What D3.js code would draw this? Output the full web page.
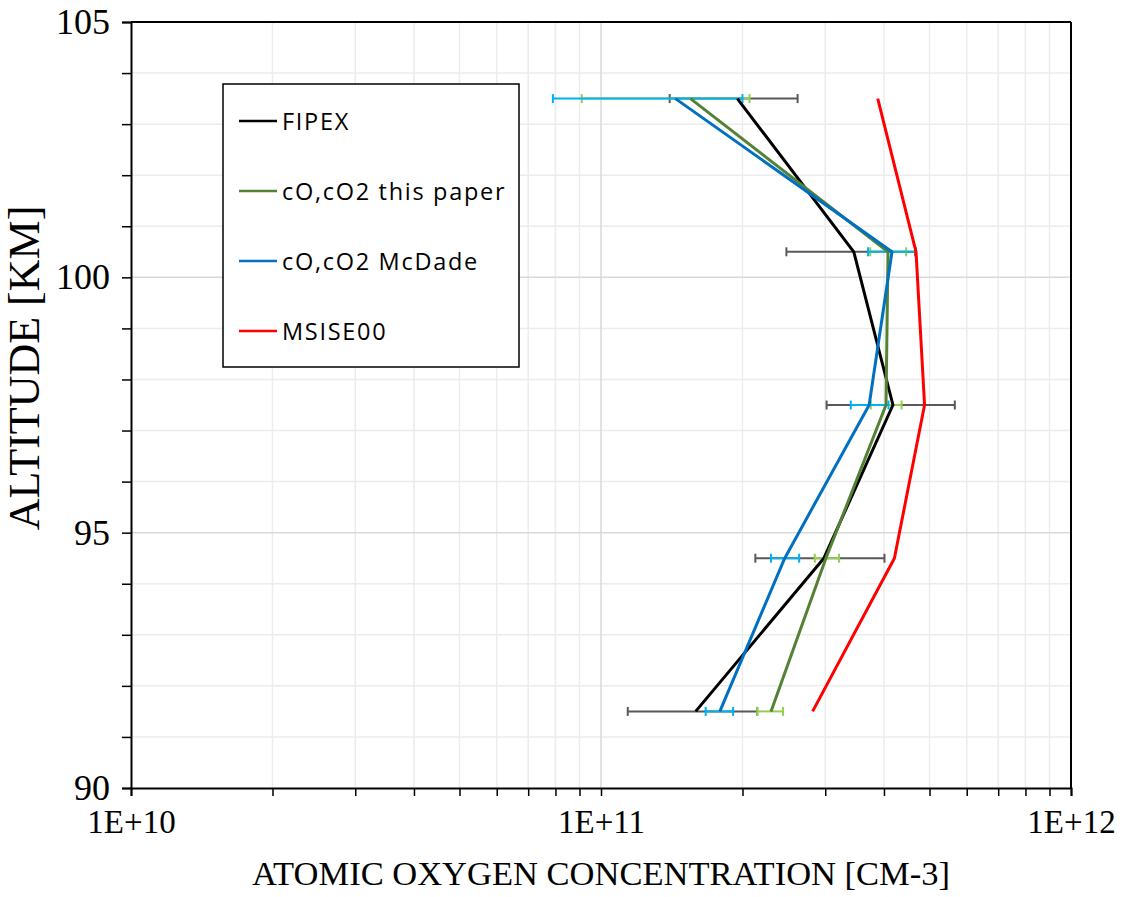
<!DOCTYPE html>
<html>
<head>
<meta charset="utf-8">
<script src="https://cdn.jsdelivr.net/npm/d3@7"></script>
<style>
    body { margin: 0; background: #fff; }
    svg { display: block; }
</style>
</head>
<body>
<div id="chart"></div>
<script>
// altitude levels [km]
const altitudes = [103.5, 100.5, 97.5, 94.5, 91.5];

// atomic oxygen concentration [cm-3]
const fipex = [1.95e11, 3.45e11, 4.18e11, 2.98e11, 1.59e11];
const fipexLow = [1.40e11, 2.48e11, 3.02e11, 2.13e11, 1.14e11];
const fipexHigh = [2.62e11, 4.66e11, 5.66e11, 4.01e11, 2.15e11];

const thisPaper = [1.55e11, 4.08e11, 4.04e11, 3.01e11, 2.30e11];
const thisPaperLow = [0.91e11, 3.74e11, 3.75e11, 2.85e11, 2.15e11];
const thisPaperHigh = [2.07e11, 4.46e11, 4.36e11, 3.21e11, 2.44e11];

const mcDade = [1.44e11, 4.16e11, 3.72e11, 2.46e11, 1.79e11];
const mcDadeLow = [0.79e11, 3.70e11, 3.40e11, 2.30e11, 1.67e11];
const mcDadeHigh = [2.00e11, 4.68e11, 4.09e11, 2.64e11, 1.91e11];

const msise = [3.88e11, 4.68e11, 4.88e11, 4.21e11, 2.82e11];

const legendLabels = ["FIPEX", "cO,cO2 this paper", "cO,cO2 McDade", "MSISE00"];
const xTickLabels = ["1E+10", "1E+11", "1E+12"];
const yTickValues = [90, 95, 100, 105];

const margin = { top: 22, right: 57, bottom: 109, left: 131 };
const width = 1128 - margin.left - margin.right;
const height = 897 - margin.top - margin.bottom;

const svg = d3.select("#chart")
    .append("svg")
    .attr("width", 1128)
    .attr("height", 897)
    .append("g")
    .attr("transform", `translate(${margin.left}, ${margin.top})`);

const x = d3.scaleLog().domain([1e10, 1e12]).range([0, width]);
const y = d3.scaleLinear().domain([90, 105]).range([height, 0]);

// minor / major values on the log axis
const xMinor = [];
[1e10, 1e11].forEach(dec => {
    for (let k = 2; k <= 9; k++) xMinor.push(dec * k);
});
const xMajor = [1e10, 1e11, 1e12];
const yAll = d3.range(90, 106, 1);

// gridlines
svg.selectAll(".vMinor")
    .data(xMinor)
    .join("line")
    .attr("x1", d => x(d)).attr("x2", d => x(d))
    .attr("y1", 0).attr("y2", height)
    .attr("stroke", "#ececec")
    .attr("stroke-width", 1.5);

svg.selectAll(".hMinor")
    .data(yAll.filter(v => v % 5 !== 0))
    .join("line")
    .attr("x1", 0).attr("x2", width)
    .attr("y1", d => y(d)).attr("y2", d => y(d))
    .attr("stroke", "#ececec")
    .attr("stroke-width", 1.5);

svg.selectAll(".vMajor")
    .data([1e11])
    .join("line")
    .attr("x1", d => x(d)).attr("x2", d => x(d))
    .attr("y1", 0).attr("y2", height)
    .attr("stroke", "#d9d9d9")
    .attr("stroke-width", 1.5);

svg.selectAll(".hMajor")
    .data([95, 100])
    .join("line")
    .attr("x1", 0).attr("x2", width)
    .attr("y1", d => y(d)).attr("y2", d => y(d))
    .attr("stroke", "#d9d9d9")
    .attr("stroke-width", 1.5);

// axes
const xAxis = d3.axisBottom(x)
    .tickValues(xMajor.concat(xMinor))
    .tickSize(8)
    .tickPadding(14)
    .tickFormat(d => {
        const i = xMajor.indexOf(d);
        return i >= 0 ? xTickLabels[i] : "";
    });

svg.append("g")
    .attr("transform", `translate(0, ${height})`)
    .call(xAxis)
    .call(g => g.select(".domain").attr("stroke", "#000").attr("stroke-width", 2))
    .call(g => g.selectAll(".tick line").attr("stroke", "#000").attr("stroke-width", 1.5))
    .call(g => g.selectAll(".tick text")
        .attr("fill", "#000")
        .style("font-family", "'Liberation Serif', 'Times New Roman', serif")
        .style("font-size", "33px"));

const yAxis = d3.axisLeft(y)
    .tickValues(yAll)
    .tickSize(9)
    .tickPadding(12)
    .tickFormat(d => yTickValues.includes(d) ? d : "");

svg.append("g")
    .call(yAxis)
    .call(g => g.select(".domain").attr("stroke", "#000").attr("stroke-width", 2))
    .call(g => g.selectAll(".tick line").attr("stroke", "#000").attr("stroke-width", 1.5))
    .call(g => g.selectAll(".tick text")
        .attr("fill", "#000")
        .style("font-family", "'Liberation Serif', 'Times New Roman', serif")
        .style("font-size", "36px"));

// top and right border of the plot area
svg.append("line")
    .attr("x1", 0).attr("x2", width).attr("y1", 0).attr("y2", 0)
    .attr("stroke", "#000").attr("stroke-width", 2);
svg.append("line")
    .attr("x1", width).attr("x2", width).attr("y1", 0).attr("y2", height)
    .attr("stroke", "#000").attr("stroke-width", 2);

// axis titles
svg.append("text")
    .attr("x", width / 2)
    .attr("y", height + 97)
    .attr("text-anchor", "middle")
    .style("font-family", "'Liberation Serif', 'Times New Roman', serif")
    .style("font-size", "34.5px")
    .text("ATOMIC OXYGEN CONCENTRATION [CM-3]");

svg.append("text")
    .attr("transform", `translate(${-92}, ${368 - margin.top}) rotate(-90)`)
    .attr("text-anchor", "middle")
    .style("font-family", "'Liberation Serif', 'Times New Roman', serif")
    .style("font-size", "44px")
    .text("ALTITUDE [KM]");

// error bars
const errorSets = [
    { low: fipexLow, high: fipexHigh, color: "#595959" },
    { low: thisPaperLow, high: thisPaperHigh, color: "#92d050" },
    { low: mcDadeLow, high: mcDadeHigh, color: "#00b0f0" }
];

errorSets.forEach(set => {
    const rows = altitudes.map((alt, i) => ({ alt, low: set.low[i], high: set.high[i] }));
    const g = svg.append("g");

    g.selectAll(".bar")
        .data(rows)
        .join("line")
        .attr("x1", d => x(d.low)).attr("x2", d => x(d.high))
        .attr("y1", d => y(d.alt)).attr("y2", d => y(d.alt))
        .attr("stroke", set.color)
        .attr("stroke-width", 2);

    ["low", "high"].forEach(key => {
        g.selectAll(`.cap-${key}`)
            .data(rows)
            .join("line")
            .attr("x1", d => x(d[key])).attr("x2", d => x(d[key]))
            .attr("y1", d => y(d.alt) - 4.5).attr("y2", d => y(d.alt) + 4.5)
            .attr("stroke", set.color)
            .attr("stroke-width", 2);
    });
});

// profile lines
const series = [
    { values: fipex, color: "#000000" },
    { values: thisPaper, color: "#548235" },
    { values: mcDade, color: "#0070c0" },
    { values: msise, color: "#ff0000" }
];

const line = d3.line()
    .x(d => x(d.value))
    .y(d => y(d.alt));

series.forEach(s => {
    svg.append("path")
        .datum(altitudes.map((alt, i) => ({ alt, value: s.values[i] })))
        .attr("fill", "none")
        .attr("stroke", s.color)
        .attr("stroke-width", 3)
        .attr("stroke-linejoin", "round")
        .attr("d", line);
});

// legend
const legend = svg.append("g")
    .attr("transform", `translate(${223 - margin.left}, ${84 - margin.top})`);

legend.append("rect")
    .attr("width", 296)
    .attr("height", 283)
    .attr("fill", "#fff")
    .attr("stroke", "#000")
    .attr("stroke-width", 1.5);

legendLabels.forEach((label, i) => {
    const ly = 37 + i * 70;
    legend.append("line")
        .attr("x1", 16).attr("x2", 54)
        .attr("y1", ly).attr("y2", ly)
        .attr("stroke", series[i].color)
        .attr("stroke-width", 2.5);
    legend.append("text")
        .attr("x", 59)
        .attr("y", ly + 8.5)
        .style("font-family", "'Open Sans', sans-serif")
        .style("font-size", "23.5px")
        .style("letter-spacing", "1.7px")
        .text(label);
});
</script>
</body>
</html>
